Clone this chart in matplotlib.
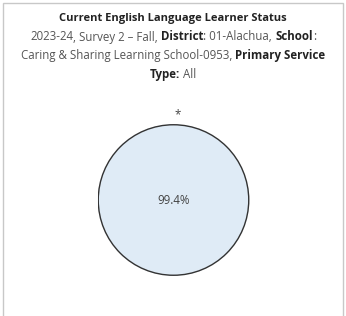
import matplotlib
matplotlib.use("Agg")
import matplotlib.pyplot as plt
from matplotlib.patches import Rectangle, Circle

# Data
labels = ["*", "99.4%"]
values = [0.6, 99.4]
colors = ["#dfebf6", "#dfebf6"]

title = "Current English Language Learner Status"
subtitle_lines = [
    [("2023-24", False), (", Survey 2 \u2013 Fall, ", False), ("District", True), (": 01-Alachua, ", False), ("School", True), (":", False)],
    [("Caring & Sharing Learning School-0953, ", False), ("Primary Service", True)],
    [("Type:", True), (" All", False)],
]

W, H = 346, 316
fig = plt.figure(figsize=(W / 100, H / 100), dpi=100)
FONT = "Open Sans"
FS = 8.3

# border
fig.patches.append(Rectangle((3 / W, -0.1), 340 / W, (H - 3) / H + 0.1, transform=fig.transFigure,
                             fill=False, edgecolor="#c8c8c8", linewidth=1.0))

fig.text(0.5, 1 - 18 / H, title, ha="center", va="center", fontsize=8.0, fontweight="bold",
         family=FONT, color="#222222")

fig.canvas.draw()
renderer = fig.canvas.get_renderer()


def adv_width(s, bold):
    kw = dict(fontsize=FS, fontweight="bold" if bold else "normal", family=FONT)
    t1 = fig.text(0, 0, "|" + s + "|", **kw)
    t2 = fig.text(0, 0, "||", **kw)
    w = t1.get_window_extent(renderer).width - t2.get_window_extent(renderer).width
    t1.remove()
    t2.remove()
    return w


ys = [37, 56, 75]
for line, yp in zip(subtitle_lines, ys):
    widths = [adv_width(s, b) for s, b in line]
    total = sum(widths)
    x = (W - total) / 2
    for (s, b), w in zip(line, widths):
        fig.text(x / W, 1 - yp / H, s, ha="left", va="center", fontsize=FS,
                 fontweight="bold" if b else "normal", family=FONT,
                 color="#222222" if b else "#555555")
        x += w

# pie
cx, cy, r = 173.5, 200, 76
ax = fig.add_axes([(cx - r) / W, (H - cy - r) / H, 2 * r / W, 2 * r / H])
wedges, _ = ax.pie(values, colors=colors, startangle=90, counterclock=False,
                   wedgeprops=dict(edgecolor="#dfebf6", linewidth=0.6))
ax.add_patch(Circle((0, 0), 1.0, fill=False, edgecolor="#333333", linewidth=1.0))
ax.set_aspect("auto")
ax.set_xlim(-1.01, 1.01)
ax.set_ylim(-1.01, 1.01)
ax.text(0, 0, labels[1], ha="center", va="center", fontsize=FS, family=FONT, color="#444444")
ax.text(0.05, 1.13, labels[0], ha="center", va="center", fontsize=FS, family=FONT, color="#444444")
ax.axis("off")

fig.savefig("out.png", dpi=100)
